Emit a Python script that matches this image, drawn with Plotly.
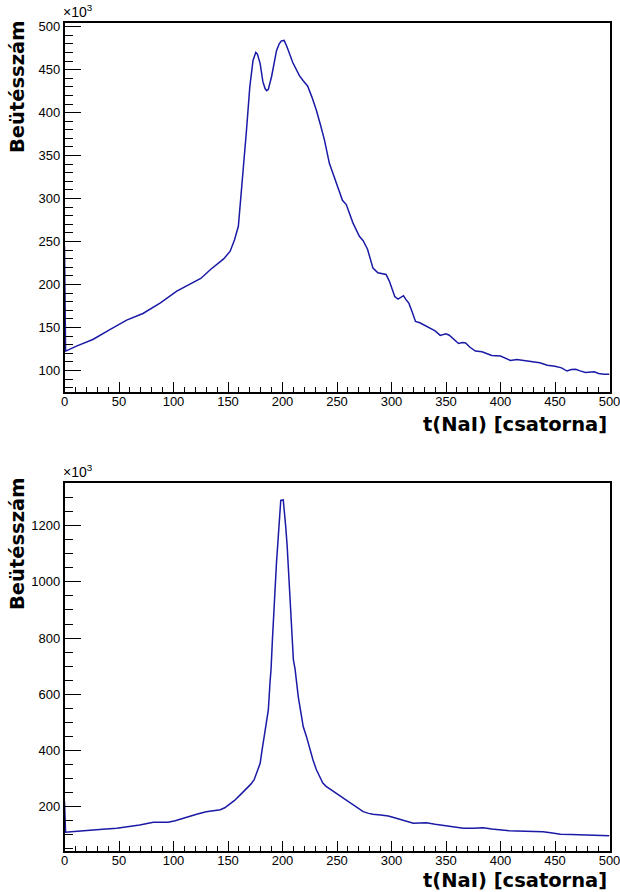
import plotly.graph_objects as go

# ---------------- data (counts in units of 10^3) ----------------
top_channel = [0, 1, 11, 26, 42, 57, 72, 88, 103, 117, 125, 134, 146, 152, 156, 159.5,
               161.5, 163.5, 165, 167, 170, 173, 175.5, 177, 179.5, 182, 184, 185.5, 187,
               190, 194.5, 197, 199, 201.5, 204, 209.5, 215.5, 219, 223, 227, 231, 235,
               238.5, 243, 247, 252, 255, 258.5, 264.5, 270.5, 274, 278, 281, 283, 287.5,
               292, 295, 298, 300, 303, 306, 309, 311, 313, 316, 319, 322, 326, 330,
               335.5, 340, 344.7, 350, 353, 357, 361.5, 365, 368, 372, 377, 383, 388,
               392, 400, 405, 409, 415, 422, 430, 436, 443, 450, 456, 461, 465, 469,
               473, 478, 486, 490, 495, 500]
top_counts = [245, 122.5, 128.3, 136, 147.7, 158.5, 166.3, 178.7, 192.2, 201.2, 207, 217.4,
              229.8, 238.7, 252, 267.7, 295, 322, 350, 380, 430, 461, 470, 468, 457, 436,
              428, 425.5, 427, 442, 472, 480, 483.5, 484, 477, 458, 443, 437, 431, 418,
              403, 385, 368, 341, 327, 307, 298, 293, 272, 256, 251, 241, 226, 219, 213.6,
              212, 211.6, 204, 197, 186, 183, 186, 187, 183, 178, 168, 157, 155.5, 153,
              149.7, 146, 140.8, 142.7, 141, 136, 131.4, 132.5, 132, 127, 122.5, 121.7,
              119.5, 117.5, 116.7, 114, 111.7, 112.8, 111.5, 110.5, 109, 106, 105, 103,
              99.3, 101, 101.3, 99.5, 97.5, 98.4, 96.5, 95.5, 95.5]

bot_channel = [0, 1, 12, 23, 35, 48, 60, 69, 81.5, 88, 95, 101.5, 108, 115, 122, 130, 137,
               143, 147, 151, 156, 161, 166, 171, 174, 177, 179.5, 181, 182.5, 184, 185.5,
               187, 188.5, 189.5, 190.7, 192, 193.2, 194.5, 195.5, 196.5, 197.5, 198.4,
               200.7, 201.8, 203, 204.3, 205.5, 206.9, 208.4, 210, 211.5, 213, 214.5, 217,
               219, 222, 225, 228, 231, 234, 237, 240, 245, 250, 255, 260, 265, 270, 274,
               279, 283, 290, 297, 302, 308, 314, 320, 326, 332, 340, 348, 356, 366, 375,
               384, 392, 400, 408, 415, 425, 439, 446, 455, 465, 476, 488, 500]
bot_counts = [218, 109, 112, 116.6, 119.5, 122.6, 128, 134.4, 144, 145, 144, 150, 158, 167.8,
              174, 182, 186, 189, 196, 208, 222, 241, 260, 280, 296, 325, 354, 395, 430,
              475, 515, 544, 640, 690, 790, 905, 960, 1070, 1126, 1190, 1240, 1290, 1292,
              1250, 1195, 1126, 1040, 912, 853, 722, 690, 630, 590, 532, 485, 449, 402,
              366, 332, 305, 284, 272, 259, 247, 233, 219, 205.6, 192, 182, 176, 172.7,
              170, 166.6, 161, 155, 147, 140.5, 141.5, 142.7, 137, 132, 127, 122.6, 123,
              124.8, 120, 116.6, 114, 113, 112, 110.6, 107, 102, 101, 99.8, 98, 96.3]

x_ticks = [0, 50, 100, 150, 200, 250, 300, 350, 400, 450, 500]
top_y_ticks = [100, 150, 200, 250, 300, 350, 400, 450, 500]
bot_y_ticks = [200, 400, 600, 800, 1000, 1200]

x_title = "t(NaI) [csatorna]"
y_title = "Beütésszám"

# ---------------- figure ----------------
W, H = 620, 892
LINE = "#1a1aa6"
TICKFONT = dict(family="Liberation Sans, Arial, sans-serif", size=13, color="black")
TITLEFONT = dict(family="DejaVu Sans, sans-serif", size=19.5, color="black")

def px_x(p):
    return p / W

def px_y(p):
    return (H - p) / H

fig = go.Figure()
fig.add_trace(go.Scatter(x=top_channel, y=top_counts, mode="lines",
                         line=dict(color=LINE, width=1.5), xaxis="x", yaxis="y",
                         showlegend=False, hoverinfo="skip"))
fig.add_trace(go.Scatter(x=bot_channel, y=bot_counts, mode="lines",
                         line=dict(color=LINE, width=1.5), xaxis="x2", yaxis="y2",
                         showlegend=False, hoverinfo="skip"))

xdom = [px_x(64.5), px_x(609.5)]

def xaxis_cfg(anchor):
    return dict(domain=xdom, range=[0, 500], anchor=anchor, tickmode="array",
                tickvals=x_ticks, ticktext=[str(v) for v in x_ticks], automargin=False,
                ticklabeloverflow="allow", ticklabelstandoff=-3,
                ticks="inside", ticklen=10, tickwidth=1.3, tickcolor="black",
                minor=dict(dtick=10, tick0=0, ticks="inside", ticklen=5,
                           tickwidth=1.3, tickcolor="black"),
                showline=True, linecolor="black", linewidth=1.5, mirror=True,
                showgrid=False, zeroline=False, tickfont=TICKFONT, fixedrange=True)

def yaxis_cfg(anchor, dom, rng, ticks, minor_dt):
    return dict(domain=dom, range=rng, anchor=anchor, tickmode="array",
                tickvals=ticks, ticktext=[str(v) for v in ticks], automargin=False,
                ticklabeloverflow="allow",
                ticks="inside", ticklen=16.5, tickwidth=1.3, tickcolor="black",
                minor=dict(dtick=minor_dt, tick0=0, ticks="inside", ticklen=8.5,
                           tickwidth=1.3, tickcolor="black"),
                showline=True, linecolor="black", linewidth=1.5, mirror=True,
                showgrid=False, zeroline=False, tickfont=TICKFONT, fixedrange=True)

fig.update_layout(
    width=W, height=H,
    margin=dict(l=0, r=0, t=0, b=0),
    paper_bgcolor="white", plot_bgcolor="white",
    xaxis=xaxis_cfg("y"),
    yaxis=yaxis_cfg("x", [px_y(391.5), px_y(22.7)], [75.5, 504.6], top_y_ticks, 10),
    xaxis2=xaxis_cfg("y2"),
    yaxis2=yaxis_cfg("x2", [px_y(851), px_y(482.7)], [42, 1353], bot_y_ticks, 50),
)

annotations = []
for frame_top, xtitle_y, ytitle_top in [(22.7, 424, 18), (482.7, 880.5, 475)]:
    annotations.append(dict(text="×10<sup>3</sup>", xref="paper", yref="paper",
                            x=px_x(61), y=px_y(frame_top - 0.5), xanchor="left", yanchor="bottom",
                            showarrow=False, font=dict(family="Liberation Sans, Arial, sans-serif",
                                                       size=14, color="black")))
    annotations.append(dict(text="<b>%s</b>" % x_title, xref="paper", yref="paper",
                            x=px_x(609), y=px_y(xtitle_y), xanchor="right", yanchor="middle",
                            showarrow=False, font=TITLEFONT))
    annotations.append(dict(text="<b>%s</b>" % y_title, xref="paper", yref="paper",
                            x=px_x(17.5), y=px_y(ytitle_top), xanchor="center", yanchor="top",
                            textangle=-90, showarrow=False, font=TITLEFONT))
fig.update_layout(annotations=annotations)

fig.write_html("out.html")
